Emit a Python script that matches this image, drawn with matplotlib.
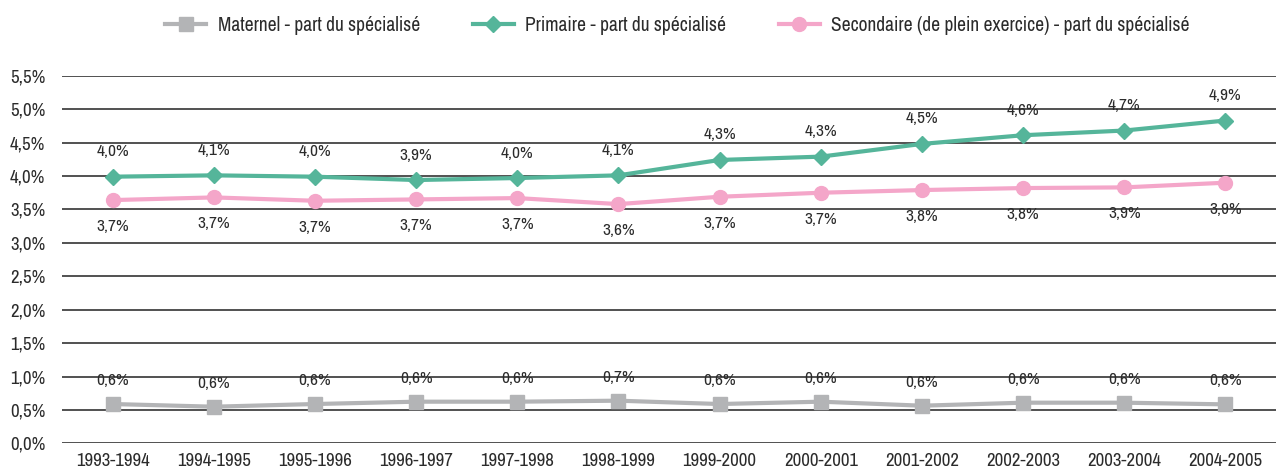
import matplotlib.pyplot as plt
from matplotlib import font_manager
import numpy as np

# school years
years = ["1993-1994", "1994-1995", "1995-1996", "1996-1997", "1997-1998", "1998-1999",
         "1999-2000", "2000-2001", "2001-2002", "2002-2003", "2003-2004", "2004-2005"]

# share of special education (%)
maternel = [0.59, 0.55, 0.59, 0.625, 0.625, 0.64, 0.59, 0.625, 0.565, 0.61, 0.61, 0.585]
primaire = [3.99, 4.01, 3.99, 3.94, 3.97, 4.01, 4.24, 4.29, 4.48, 4.61, 4.68, 4.83]
secondaire = [3.64, 3.68, 3.63, 3.65, 3.67, 3.58, 3.69, 3.75, 3.79, 3.82, 3.83, 3.90]

# printed value labels as they appear on the chart
maternel_lbl = ["0,6%", "0,6%", "0,6%", "0,6%", "0,6%", "0,7%", "0,6%", "0,6%", "0,6%", "0,6%", "0,6%", "0,6%"]
primaire_lbl = ["4,0%", "4,1%", "4,0%", "3,9%", "4,0%", "4,1%", "4,3%", "4,3%", "4,5%", "4,6%", "4,7%", "4,9%"]
secondaire_lbl = ["3,7%", "3,7%", "3,7%", "3,7%", "3,7%", "3,6%", "3,7%", "3,7%", "3,8%", "3,8%", "3,9%", "3,9%"]

yticks = [0.0, 0.5, 1.0, 1.5, 2.0, 2.5, 3.0, 3.5, 4.0, 4.5, 5.0, 5.5]

# look for a narrow face (the original uses a condensed font)
fams = {f.name for f in font_manager.fontManager.ttflist}
narrow = [n for n in fams if "Narrow" in n or "Condensed" in n]
if narrow:
    plt.rcParams['font.family'] = [sorted(narrow)[0], 'DejaVu Sans']
else:
    plt.rcParams['font.family'] = ['DejaVu Sans']
    plt.rcParams['font.stretch'] = 'condensed'
txt = "#2b2b2b"

fig = plt.figure(figsize=(12.76, 4.68), dpi=100)
ax = fig.add_axes([0.0486, 0.0524, 0.9514, 0.7858])

x = np.arange(len(years))

series = [
    ("Maternel - part du spécialisé", maternel, maternel_lbl, "#b3b4b6", "s", 10, 17),
    ("Primaire - part du spécialisé", primaire, primaire_lbl, "#55b59a", "D", 8.5, 18),
    ("Secondaire (de plein exercice) - part du spécialisé", secondaire, secondaire_lbl, "#f4a6c9", "o", 10, -19),
]

for name, vals, lbls, col, mk, ms, off in series:
    ax.plot(x, vals, color=col, lw=3, marker=mk, markersize=ms, label=name, zorder=3)
    for xi, v, l in zip(x, vals, lbls):
        ax.annotate(l, (xi, v), xytext=(0, off), textcoords="offset points",
                    ha="center", va="center", fontsize=12.5, color=txt, zorder=4)

ax.set_xlim(-0.5, 11.5)
ax.set_ylim(0, 5.5)
ax.set_yticks(yticks)
ax.set_yticklabels([f"{v:.1f}%".replace(".", ",") for v in yticks])
ax.set_xticks(x)
ax.set_xticklabels(years)
ax.tick_params(length=0, labelsize=13.5, colors=txt)
ax.tick_params(axis="y", pad=12)
ax.tick_params(axis="x", pad=7)
ax.grid(axis="y", color="#222222", lw=1.1)
ax.set_axisbelow(True)
for s in ax.spines.values():
    s.set_visible(False)

fig.legend(loc="center", bbox_to_anchor=(0.531, 0.945), ncol=3, frameon=False,
           fontsize=14, handlelength=2.1, columnspacing=2.7, handletextpad=0.6,
           labelcolor=txt)

fig.savefig("out.png", dpi=100)
